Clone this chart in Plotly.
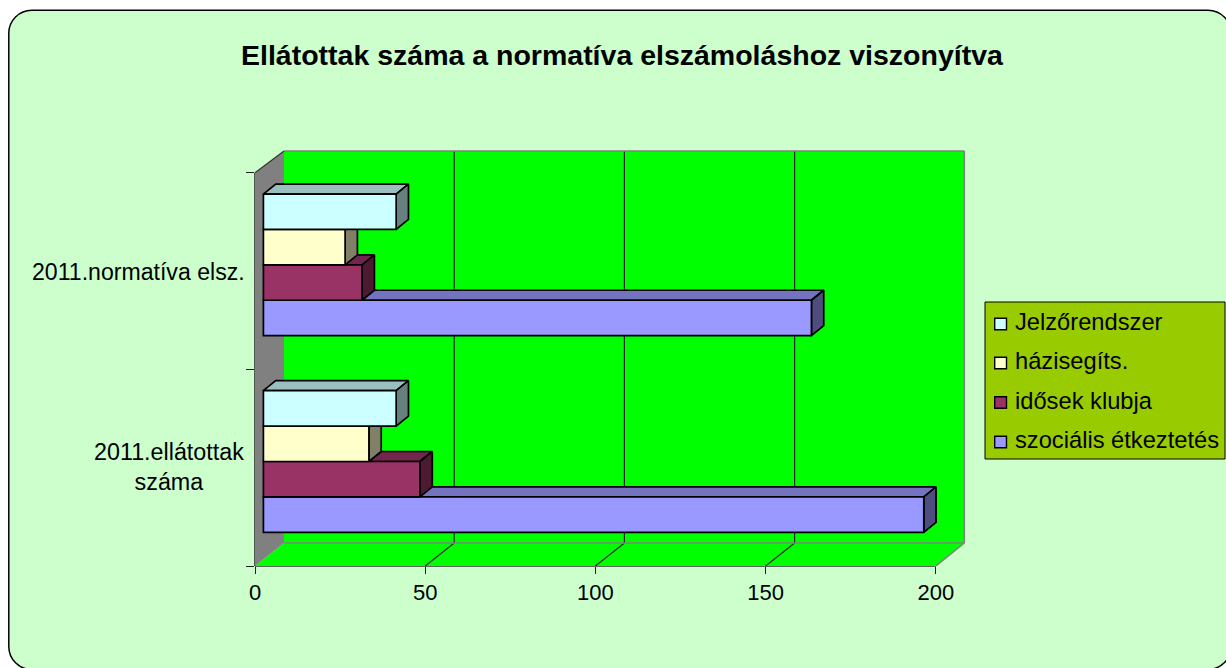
import plotly.graph_objects as go

W, H = 1226, 668

title_text = "Ellátottak száma a normatíva elszámoláshoz viszonyítva"
categories = ["2011.ellátottak<br>száma", "2011.normatíva elsz."]
series_names = ["szociális étkeztetés", "idősek klubja", "házisegíts.", "Jelzőrendszer"]
szocialis = [194, 161]
klub = [46, 29]
hazi = [31, 24]
jelzo = [39, 39]
series_values = [szocialis, klub, hazi, jelzo]
x_ticks = [0, 50, 100, 150, 200]
front_colors = ["#9999FF", "#993366", "#FFFFCC", "#CCFFFF"]
top_colors = ["#7373BF", "#73264D", "#BFBF99", "#99BFBF"]
side_colors = ["#4D4D80", "#4D1933", "#808066", "#668080"]

# pixel layout
PX0, PX_BACK_R = 255.0, 964.3      # front x=0, back right edge
PY0, PY_TOP = 566.0, 151.0         # front y=0, back top edge
PAD = 3.0                          # spare room so the wall edges are not clipped
PX_PER_X = 3.404
PX_PER_CAT = 196.65
xb = (PX_BACK_R - PX0) / PX_PER_X
yb_top = (PY0 - PY_TOP) / PX_PER_CAT
xmax = (PX_BACK_R + PAD - PX0) / PX_PER_X
ymax = (PY0 - PY_TOP + PAD) / PX_PER_CAT
wall_dx, wall_dy = 29 / PX_PER_X, 23 / PX_PER_CAT
bar_x0 = 8.4 / PX_PER_X
bar_h = 35.4 / PX_PER_CAT
bar_start = 33.7 / PX_PER_CAT
bar_dx, bar_dy = 12.3 / PX_PER_X, 10 / PX_PER_CAT
BLACK = "#000000"
LW = 1.7


def fx(px):
    return px / W


def fy(py):
    return 1 - py / H


fig = go.Figure()
zo = 1
for k, (name, vals) in enumerate(zip(series_names, series_values)):
    ys = [i + bar_start + bar_h * (k + 0.5) for i in range(len(vals))]
    tx, ty, sx, sy = [], [], [], []
    for v, yc in zip(vals, ys):
        xr = bar_x0 + v
        yt = yc + bar_h / 2
        yb = yc - bar_h / 2
        tx += [bar_x0, bar_x0 + bar_dx, xr + bar_dx, xr, bar_x0, None]
        ty += [yt, yt + bar_dy, yt + bar_dy, yt, yt, None]
        sx += [xr, xr + bar_dx, xr + bar_dx, xr, xr, None]
        sy += [yt, yt + bar_dy, yb + bar_dy, yb, yt, None]
    for xs, yy, col in ((tx, ty, top_colors[k]), (sx, sy, side_colors[k])):
        fig.add_trace(go.Scatter(x=xs, y=yy, mode="lines", fill="toself", fillcolor=col,
                                 line=dict(color=BLACK, width=LW), hoverinfo="skip",
                                 showlegend=False, zorder=zo))
    zo += 1
    fig.add_trace(go.Bar(x=vals, y=ys, base=[bar_x0] * len(vals), width=bar_h, orientation="h",
                         name=name, marker=dict(color=front_colors[k], line=dict(color=BLACK, width=LW)),
                         showlegend=False, zorder=zo))
    zo += 1

shapes = []
# chart area rounded rectangle (pixel frame)
L, T, R, B, r = 8.8, 10.2, 1231, 669.5, 23
c = r * 0.4477
path = (f"M {fx(L+r)},{fy(T)} L {fx(R-r)},{fy(T)} "
        f"C {fx(R-c)},{fy(T)} {fx(R)},{fy(T+c)} {fx(R)},{fy(T+r)} "
        f"L {fx(R)},{fy(B-r)} C {fx(R)},{fy(B-c)} {fx(R-c)},{fy(B)} {fx(R-r)},{fy(B)} "
        f"L {fx(L+r)},{fy(B)} C {fx(L+c)},{fy(B)} {fx(L)},{fy(B-c)} {fx(L)},{fy(B-r)} "
        f"L {fx(L)},{fy(T+r)} C {fx(L)},{fy(T+c)} {fx(L+c)},{fy(T)} {fx(L+r)},{fy(T)} Z")
shapes.append(dict(type="path", xref="paper", yref="paper", path=path, fillcolor="#CCFFCC",
                   line=dict(color=BLACK, width=1.5), layer="below"))


def poly(pts, fill, line=None, width=0):
    p = "M " + " L ".join(f"{a},{b}" for a, b in pts) + " Z"
    return dict(type="path", xref="x", yref="y", path=p, fillcolor=fill,
                line=dict(color=line or fill, width=width), layer="below")


def seg(x0, y0, x1, y1, color, width=1.0):
    return dict(type="line", xref="x", yref="y", x0=x0, y0=y0, x1=x1, y1=y1,
                line=dict(color=color, width=width), layer="below")


ntop = len(categories)
# back wall, floor, side wall
shapes.append(poly([(wall_dx, wall_dy), (xb, wall_dy), (xb, yb_top), (wall_dx, yb_top)], "#00FF00"))
shapes.append(poly([(0, 0), (wall_dx, wall_dy), (xb, wall_dy), (x_ticks[-1], 0)], "#00FF00"))
shapes.append(poly([(0, 0), (wall_dx, wall_dy), (wall_dx, yb_top), (0, ntop)], "#808080"))
for t in x_ticks[1:-1]:
    shapes.append(seg(t + wall_dx, wall_dy, t + wall_dx, yb_top, "#222222", 1.2))
    shapes.append(seg(t, 0, t + wall_dx, wall_dy, "#222222", 1.2))
# wall edges
shapes.append(seg(wall_dx, yb_top, xb, yb_top, "#808080", 1.6))
shapes.append(seg(xb, yb_top, xb, wall_dy, "#808080", 1.6))
shapes.append(seg(wall_dx, wall_dy, xb, wall_dy, "#808080", 1.6))
shapes.append(seg(x_ticks[-1], 0, xb, wall_dy, "#808080", 1.6))
shapes.append(seg(0, ntop, wall_dx, yb_top, "#333333", 1.2))
# front axis lines (on the plot-area border, so positioned on the page to avoid clipping)
px_end = PX0 + x_ticks[-1] * PX_PER_X
py_end = PY0 - ntop * PX_PER_CAT
for x0, y0, x1, y1 in ((PX0, PY0, px_end, PY0), (PX0, PY0, PX0, py_end)):
    shapes.append(dict(type="line", xref="paper", yref="paper", x0=fx(x0), y0=fy(y0), x1=fx(x1), y1=fy(y1),
                       line=dict(color="#333333", width=1.6), layer="below"))

# legend box
LX0, LY0, LX1, LY1 = 985.0, 302.0, 1225.0, 459.0
shapes.append(dict(type="rect", xref="paper", yref="paper", x0=fx(LX0), x1=fx(LX1), y0=fy(LY1), y1=fy(LY0),
                   fillcolor="#99CC00", line=dict(color=BLACK, width=1), layer="below"))
annotations = []
legend_rows = [322, 361, 400.7, 440]
legend_swatch_rows = [324, 363, 402.5, 442]
for yrow, ysw, k in zip(legend_rows, legend_swatch_rows, [3, 2, 1, 0]):
    shapes.append(dict(type="rect", xref="paper", yref="paper", x0=fx(994.7), x1=fx(1006.5),
                       y0=fy(ysw + 5.8), y1=fy(ysw - 5.8), fillcolor=front_colors[k],
                       line=dict(color=BLACK, width=1.4), layer="above"))
    annotations.append(dict(xref="paper", yref="paper", x=fx(1012.5), y=fy(yrow), xanchor="left", yanchor="middle",
                            text=series_names[k], showarrow=False, font=dict(size=23.7, color=BLACK)))

# category labels
annotations.append(dict(xref="paper", yref="paper", x=fx(169), y=fy(467), xanchor="center", yanchor="middle",
                        text=categories[0], showarrow=False, align="center", font=dict(size=23.3, color=BLACK)))
annotations.append(dict(xref="paper", yref="paper", x=fx(246.5), y=fy(272), xanchor="right", yanchor="middle",
                        text=categories[1], showarrow=False, font=dict(size=23.1, color=BLACK)))
# title
annotations.append(dict(xref="paper", yref="paper", x=fx(622.5), y=fy(55), xanchor="center", yanchor="middle",
                        text="<b>" + title_text + "</b>", showarrow=False, font=dict(size=28.5, color=BLACK)))

fig.update_layout(
    width=W, height=H, autosize=False, margin=dict(l=0, r=0, t=0, b=0, pad=0, autoexpand=False),
    paper_bgcolor="#FFFFFF", plot_bgcolor="rgba(0,0,0,0)", showlegend=False,
    font=dict(family="Liberation Sans, Arial, sans-serif", color=BLACK),
    barmode="overlay", shapes=shapes, annotations=annotations,
    xaxis=dict(domain=[fx(PX0), fx(PX_BACK_R + PAD)], range=[0, xmax], showgrid=False, zeroline=False, showline=False,
               tickmode="array", tickvals=x_ticks, ticks="outside", ticklen=7, tickwidth=1.2, tickcolor="#222222",
               tickfont=dict(size=22, color=BLACK), ticklabelstandoff=0),
    yaxis=dict(domain=[fy(PY0), fy(PY_TOP - PAD)], range=[0, ymax], showgrid=False, zeroline=False, showline=False,
               tickmode="array", tickvals=list(range(ntop + 1)), ticktext=[""] * (ntop + 1), ticks="outside",
               ticklen=8, tickwidth=1.2, tickcolor="#222222"),
)

fig.write_html("out.html", config=dict(displayModeBar=False),
               post_script="document.body.style.margin='0';document.documentElement.style.overflow='hidden';")
